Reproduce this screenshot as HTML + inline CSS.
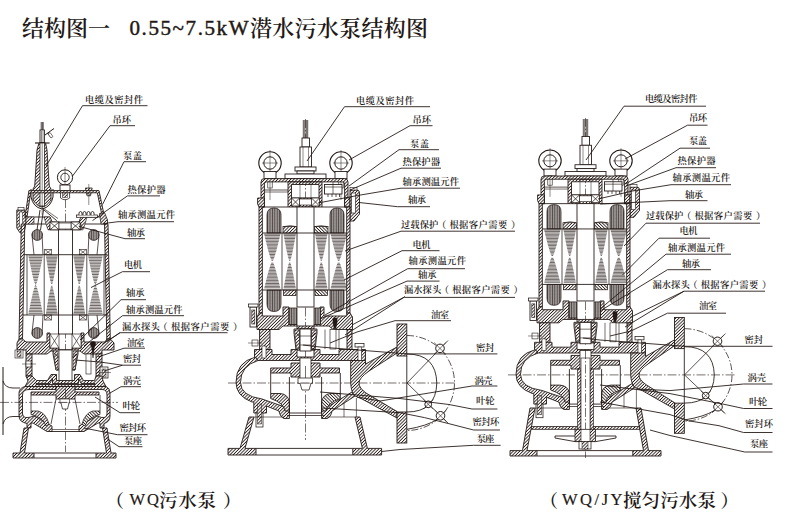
<!DOCTYPE html>
<html lang="zh-CN"><head><meta charset="utf-8"><title>结构图一 0.55~7.5kW潜水污水泵结构图</title>
<style>
html,body{margin:0;padding:0;background:#fff;}
body{width:800px;height:530px;overflow:hidden;font-family:"Liberation Serif","Noto Serif CJK SC",serif;}
svg{display:block}
.t{font-family:"Liberation Serif","Noto Serif CJK SC",serif;font-weight:600;fill:#231815;stroke:none}
.h1{font-family:"Liberation Serif","Noto Serif CJK SC",serif;font-weight:600;fill:#231815;stroke:none}
.h3{font-family:"Liberation Serif","Noto Serif CJK SC",serif;font-weight:400;fill:#231815;stroke:#231815;stroke-width:0.2}
.h2{font-family:"Liberation Serif","Noto Serif CJK SC",serif;font-weight:400;fill:#231815;stroke:#231815;stroke-width:0.45}
</style></head><body>
<svg width="800" height="530" viewBox="0 0 800 530" stroke="#231815" fill="none" stroke-linecap="butt" stroke-linejoin="miter">
<defs>
<pattern id="h" width="2.3" height="2.3" patternUnits="userSpaceOnUse" patternTransform="rotate(45)"><rect width="2.3" height="2.3" fill="#fff" stroke="none"/><line x1="1.15" y1="-1" x2="1.15" y2="3.3" stroke="#231815" stroke-width="0.85"/></pattern>
<pattern id="x" width="2.4" height="1.45" patternUnits="userSpaceOnUse"><rect width="2.4" height="1.45" fill="#fff" stroke="none"/><path d="M-1,0.72H4" stroke="#231815" stroke-width="0.7"/><path d="M1.2,-1V3" stroke="#231815" stroke-width="0.5"/></pattern>
<pattern id="s" width="1.4" height="1.4" patternUnits="userSpaceOnUse"><rect width="1.4" height="1.4" fill="#fff" stroke="none"/><line x1="-1" y1="0.7" x2="2.4" y2="0.7" stroke="#3a302d" stroke-width="0.7"/></pattern>
</defs>
<rect x="0" y="0" width="800" height="530" fill="#fff" stroke="none"/>
<g id="p2">
<line x1="305.5" y1="119.0" x2="305.5" y2="440.0" stroke-width="0.62" stroke-dasharray="9 2 1.5 2"/>
<line x1="303.3" y1="120.0" x2="303.3" y2="138.0" stroke-width="0.75" />
<line x1="304.8" y1="120.0" x2="304.8" y2="138.0" stroke-width="0.75" />
<line x1="306.3" y1="120.0" x2="306.3" y2="138.0" stroke-width="0.75" />
<line x1="307.7" y1="120.0" x2="307.7" y2="138.0" stroke-width="0.75" />
<rect x="302.0" y="138.0" width="7.5" height="9.0" fill="#fff" stroke-width="0.88" rx="0" />
<rect x="300.0" y="147.0" width="11.5" height="20.0" fill="#fff" stroke-width="0.88" rx="0" />
<line x1="303.0" y1="147.0" x2="303.0" y2="167.0" stroke-width="0.50" />
<line x1="308.5" y1="147.0" x2="308.5" y2="167.0" stroke-width="0.50" />
<rect x="295.0" y="167.0" width="21.0" height="4.0" fill="#fff" stroke-width="0.88" rx="0" />
<rect x="297.0" y="171.0" width="17.0" height="3.0" fill="#fff" stroke-width="0.88" rx="0" />
<rect x="285.0" y="174.0" width="41.0" height="4.6" fill="#fff" stroke-width="0.88" rx="0" />
<circle cx="270.0" cy="163.0" r="11.2" fill="#fff" stroke-width="1.12" />
<circle cx="270.0" cy="163.0" r="6.2" fill="#fff" stroke-width="1.00" />
<line x1="262.0" y1="163.0" x2="278.0" y2="163.0" stroke-width="0.50" />
<line x1="270.0" y1="150.0" x2="270.0" y2="172.0" stroke-width="0.50" />
<rect x="264.0" y="171.5" width="12.0" height="7.1" fill="#fff" stroke-width="0.88" rx="0" />
<rect x="267.8" y="178.6" width="4.4" height="9.4" fill="#fff" stroke-width="0.62" rx="0" />
<line x1="270.0" y1="178.0" x2="270.0" y2="200.0" stroke-width="0.50" />
<g transform="translate(611.0,0) scale(-1,1)">
<circle cx="270.0" cy="163.0" r="11.2" fill="#fff" stroke-width="1.12" />
<circle cx="270.0" cy="163.0" r="6.2" fill="#fff" stroke-width="1.00" />
<line x1="262.0" y1="163.0" x2="278.0" y2="163.0" stroke-width="0.50" />
<line x1="270.0" y1="150.0" x2="270.0" y2="172.0" stroke-width="0.50" />
<rect x="264.0" y="171.5" width="12.0" height="7.1" fill="#fff" stroke-width="0.88" rx="0" />
<rect x="267.8" y="178.6" width="4.4" height="9.4" fill="#fff" stroke-width="0.62" rx="0" />
<line x1="270.0" y1="178.0" x2="270.0" y2="200.0" stroke-width="0.50" />
</g>
<path d="M261,207 V182 Q261,178.6 264.5,178.6 H344.5 Q348,178.6 348,182 V207 H344.6 V184 Q344.6,181.9 342.5,181.9 H266.5 Q264.4,181.9 264.4,184 V207 Z" fill="url(#h)" stroke-width="0.88" />
<path d="M257.6,198 H264.4 V207 H259 L257.6,204 Z" fill="url(#h)" stroke-width="0.88" />
<path d="M344.6,198 H350 V207 H344.6 Z" fill="url(#h)" stroke-width="0.88" />
<path d="M350,190 H357 Q359.5,190 359.5,193 V214 L354,221 H350 Z" fill="url(#h)" stroke-width="0.88" />
<rect x="351.5" y="193.0" width="4.0" height="20.0" fill="#fff" stroke-width="0.62" rx="0" />
<rect x="350.0" y="187.5" width="7.0" height="2.5" fill="#fff" stroke-width="0.62" rx="0" />
<rect x="259.0" y="207.0" width="3.3" height="106.0" fill="url(#h)" stroke-width="0.88" rx="0" />
<rect x="346.7" y="207.0" width="3.3" height="106.0" fill="url(#h)" stroke-width="0.88" rx="0" />
<path d="M288,181.9 H322 V207 H288 Z M291.5,184.5 V198 H319 V184.5 Z" fill="url(#h)" stroke-width="0.88" fill-rule="evenodd"/>
<line x1="264.4" y1="190.0" x2="288.0" y2="190.0" stroke-width="0.75" />
<line x1="264.4" y1="192.0" x2="288.0" y2="192.0" stroke-width="0.62" />
<line x1="262.3" y1="207.0" x2="288.0" y2="207.0" stroke-width="0.88" />
<line x1="322.0" y1="207.0" x2="346.7" y2="207.0" stroke-width="0.88" />
<rect x="291.5" y="198.0" width="8.0" height="8.0" fill="#fff" stroke-width="0.75" rx="0" />
<line x1="291.5" y1="198.0" x2="299.5" y2="206.0" stroke-width="0.75" />
<line x1="291.5" y1="206.0" x2="299.5" y2="198.0" stroke-width="0.75" />
<rect x="311.5" y="198.0" width="8.0" height="8.0" fill="#fff" stroke-width="0.75" rx="0" />
<line x1="311.5" y1="198.0" x2="319.5" y2="206.0" stroke-width="0.75" />
<line x1="311.5" y1="206.0" x2="319.5" y2="198.0" stroke-width="0.75" />
<rect x="299.5" y="199.0" width="12.0" height="6.0" fill="#fff" stroke-width="0.62" rx="0" />
<rect x="324.5" y="184.5" width="17.5" height="9.5" fill="#fff" stroke-width="0.88" rx="0" />
<line x1="324.5" y1="187.0" x2="342.0" y2="187.0" stroke-width="0.62" />
<line x1="328.0" y1="194.0" x2="328.0" y2="197.0" stroke-width="0.75" />
<line x1="332.0" y1="194.0" x2="332.0" y2="197.0" stroke-width="0.75" />
<line x1="336.0" y1="194.0" x2="336.0" y2="197.0" stroke-width="0.75" />
<line x1="339.5" y1="194.0" x2="339.5" y2="197.0" stroke-width="0.75" />
<line x1="333.0" y1="181.9" x2="333.0" y2="194.0" stroke-width="0.62" />
<rect x="297.0" y="207.0" width="17.0" height="100.0" fill="#fff" stroke-width="0.88" rx="0" />
<rect x="300.0" y="181.9" width="11.0" height="16.1" fill="none" stroke-width="0.50" rx="0" />
<path d="M267,233 V215 Q267,208 274,208 Q281,208 281,215 V233 Z" fill="url(#x)" stroke-width="0.75" />
<path d="M267,290 V304 Q267,311.5 274,311.5 Q281,311.5 281,304 V290 Z" fill="url(#x)" stroke-width="0.75" />
<rect x="283.0" y="226.6" width="13.6" height="6.4" fill="url(#h)" stroke-width="0.75" rx="0" />
<path d="M284,226.6 Q290,224.5 296,226.6" fill="none" stroke-width="0.62" />
<rect x="283.6" y="290.0" width="12.4" height="5.5" fill="url(#h)" stroke-width="0.75" rx="0" />
<path d="M264.2,234.2H280.4M264.5,235.6H280.1M264.9,237.1H279.7M265.2,238.5H279.4M265.5,240.0H279.1M265.9,241.4H278.7M266.3,242.9H278.3M266.6,244.3H278.0M267.0,245.8H277.6M267.4,247.2H277.2M267.7,248.7H276.9M268.1,250.1H276.5M268.5,251.6H276.1M269.0,253.0H275.6M269.4,254.5H275.2M269.8,255.9H274.8M270.3,257.4H274.3M270.8,258.8H273.8M271.5,260.3H273.1M271.2,263.2H273.4M270.6,264.6H274.0M270.1,266.1H274.5M269.7,267.5H274.9M269.2,269.0H275.4M268.8,270.4H275.8M268.4,271.9H276.2M268.0,273.3H276.6M267.6,274.8H277.0M267.2,276.2H277.4M266.9,277.7H277.7M266.5,279.1H278.1M266.1,280.6H278.5M265.8,282.0H278.8M265.4,283.5H279.2M265.1,284.9H279.5M264.7,286.4H279.9M264.4,287.8H280.2" fill="none" stroke-width="0.69" stroke="#2e2522"/>
<path d="M283.5,234.2H295.9M283.8,235.6H295.6M284.0,237.1H295.4M284.3,238.5H295.1M284.6,240.0H294.8M284.8,241.4H294.6M285.1,242.9H294.3M285.4,244.3H294.0M285.7,245.8H293.7M285.9,247.2H293.5M286.2,248.7H293.2M286.5,250.1H292.9M286.8,251.6H292.6M287.1,253.0H292.3M287.5,254.5H291.9M287.8,255.9H291.6M288.2,257.4H291.2M288.6,258.8H290.8M289.1,260.3H290.3M288.9,263.2H290.5M288.4,264.6H291.0M288.1,266.1H291.3M287.7,267.5H291.7M287.4,269.0H292.0M287.0,270.4H292.4M286.7,271.9H292.7M286.4,273.3H293.0M286.1,274.8H293.3M285.8,276.2H293.6M285.6,277.7H293.8M285.3,279.1H294.1M285.0,280.6H294.4M284.7,282.0H294.7M284.5,283.5H294.9M284.2,284.9H295.2M283.9,286.4H295.5M283.7,287.8H295.7" fill="none" stroke-width="0.69" stroke="#2e2522"/>
<line x1="282.0" y1="233.0" x2="282.0" y2="290.0" stroke-width="0.75" />
<g transform="translate(611.0,0) scale(-1,1)">
<path d="M267,233 V215 Q267,208 274,208 Q281,208 281,215 V233 Z" fill="url(#x)" stroke-width="0.75" />
<path d="M267,290 V304 Q267,311.5 274,311.5 Q281,311.5 281,304 V290 Z" fill="url(#x)" stroke-width="0.75" />
<rect x="283.0" y="226.6" width="13.6" height="6.4" fill="url(#h)" stroke-width="0.75" rx="0" />
<path d="M284,226.6 Q290,224.5 296,226.6" fill="none" stroke-width="0.62" />
<rect x="283.6" y="290.0" width="12.4" height="5.5" fill="url(#h)" stroke-width="0.75" rx="0" />
<path d="M264.2,234.2H280.4M264.5,235.6H280.1M264.9,237.1H279.7M265.2,238.5H279.4M265.5,240.0H279.1M265.9,241.4H278.7M266.3,242.9H278.3M266.6,244.3H278.0M267.0,245.8H277.6M267.4,247.2H277.2M267.7,248.7H276.9M268.1,250.1H276.5M268.5,251.6H276.1M269.0,253.0H275.6M269.4,254.5H275.2M269.8,255.9H274.8M270.3,257.4H274.3M270.8,258.8H273.8M271.5,260.3H273.1M271.2,263.2H273.4M270.6,264.6H274.0M270.1,266.1H274.5M269.7,267.5H274.9M269.2,269.0H275.4M268.8,270.4H275.8M268.4,271.9H276.2M268.0,273.3H276.6M267.6,274.8H277.0M267.2,276.2H277.4M266.9,277.7H277.7M266.5,279.1H278.1M266.1,280.6H278.5M265.8,282.0H278.8M265.4,283.5H279.2M265.1,284.9H279.5M264.7,286.4H279.9M264.4,287.8H280.2" fill="none" stroke-width="0.69" stroke="#2e2522"/>
<path d="M283.5,234.2H295.9M283.8,235.6H295.6M284.0,237.1H295.4M284.3,238.5H295.1M284.6,240.0H294.8M284.8,241.4H294.6M285.1,242.9H294.3M285.4,244.3H294.0M285.7,245.8H293.7M285.9,247.2H293.5M286.2,248.7H293.2M286.5,250.1H292.9M286.8,251.6H292.6M287.1,253.0H292.3M287.5,254.5H291.9M287.8,255.9H291.6M288.2,257.4H291.2M288.6,258.8H290.8M289.1,260.3H290.3M288.9,263.2H290.5M288.4,264.6H291.0M288.1,266.1H291.3M287.7,267.5H291.7M287.4,269.0H292.0M287.0,270.4H292.4M286.7,271.9H292.7M286.4,273.3H293.0M286.1,274.8H293.3M285.8,276.2H293.6M285.6,277.7H293.8M285.3,279.1H294.1M285.0,280.6H294.4M284.7,282.0H294.7M284.5,283.5H294.9M284.2,284.9H295.2M283.9,286.4H295.5M283.7,287.8H295.7" fill="none" stroke-width="0.69" stroke="#2e2522"/>
<line x1="282.0" y1="233.0" x2="282.0" y2="290.0" stroke-width="0.75" />
</g>
<line x1="262.3" y1="233.0" x2="346.7" y2="233.0" stroke-width="0.88" />
<line x1="262.3" y1="290.0" x2="346.7" y2="290.0" stroke-width="0.88" />
<path d="M259,313 H262.3 V316 H283 V307 H289 V324.5 H297 V329 H314 V324.5 H320 V307 H324 V316 H346.7 V313 H350 L352.5,317 V329.5 H333 L329,326 H283 L279,329.5 H257 V317 Z" fill="url(#h)" stroke-width="0.88" />
<rect x="289.0" y="308.0" width="8.0" height="16.5" fill="url(#x)" stroke-width="0.75" rx="0" />
<rect x="314.0" y="308.0" width="6.5" height="16.5" fill="url(#x)" stroke-width="0.75" rx="0" />
<rect x="250.0" y="307.0" width="6.5" height="20.0" fill="#fff" stroke-width="0.88" rx="0" />
<rect x="251.8" y="310.0" width="3.0" height="14.0" fill="url(#h)" stroke-width="0.62" rx="0" />
<rect x="248.5" y="304.0" width="9.5" height="3.0" fill="#fff" stroke-width="0.75" rx="0" />
<rect x="259.6" y="329.5" width="10.4" height="20.0" fill="url(#h)" stroke-width="0.88" rx="0" />
<rect x="347.0" y="329.5" width="5.0" height="20.0" fill="url(#h)" stroke-width="0.88" rx="0" />
<rect x="252.0" y="340.0" width="6.0" height="6.0" fill="#fff" stroke-width="0.62" rx="0" />
<line x1="248.0" y1="343.0" x2="262.0" y2="343.0" stroke-width="0.50" />
<path d="M333,318 l4,0 l0,5 l-2,9 l-2,-9 Z" fill="#231815" stroke-width="0.62" />
<rect x="330.0" y="329.5" width="6.0" height="19.5" fill="#fff" stroke-width="0.62" rx="0" />
<line x1="325.0" y1="329.5" x2="325.0" y2="349.0" stroke-width="0.62" />
<line x1="339.0" y1="329.5" x2="339.0" y2="349.0" stroke-width="0.62" />
<path d="M294,329 H317 V333 L315,350 H296 L294,333 Z" fill="#fff" stroke-width="0.88" />
<path d="M294.5,330 H299.5 V350 H296.5 Z" fill="url(#h)" stroke-width="0.62" />
<path d="M316.5,330 H311.5 V350 H314.5 Z" fill="url(#h)" stroke-width="0.62" />
<line x1="296.0" y1="333.0" x2="314.0" y2="350.0" stroke-width="0.75" />
<line x1="315.0" y1="333.0" x2="297.0" y2="350.0" stroke-width="0.75" />
<rect x="300.0" y="329.0" width="11.0" height="22.0" fill="#fff" stroke-width="0.88" rx="0" />
<line x1="300.0" y1="336.0" x2="311.0" y2="336.0" stroke-width="0.62" />
<line x1="300.0" y1="345.0" x2="311.0" y2="345.0" stroke-width="0.62" />
<path d="M254.5,349.5 H272 V354.5 H291 V349.5 H297 V357 H314 V349.5 H320 V354.5 H339 V349.5 H365.5 V360.5 H254.5 Z" fill="url(#h)" stroke-width="0.88" />
<rect x="355.0" y="343.5" width="9.0" height="3.5" fill="#fff" stroke-width="0.75" rx="0" />
<rect x="358.0" y="347.0" width="3.5" height="18.0" fill="#fff" stroke-width="0.62" rx="0" />
<rect x="262.0" y="346.0" width="4.0" height="12.0" fill="#fff" stroke-width="0.62" rx="0" />
<path d="M255.5,357 Q236,362 236,382.4 Q236,396 252,402 L253.8,402 V413 H266.5 V406 L279,411 Q280,417 284,418.5 H289.4 V410 H285.5 Q284.5,406 282,406 L262,399 Q240.5,396 240.5,382.4 Q240.5,366 258,360.5 Z" fill="url(#h)" stroke-width="0.88" />
<path d="M321.6,410 V418.5 H327 Q331,417 332,411 L355,396 L352,392 L329,406 Q326.5,406 325.5,410 Z" fill="url(#h)" stroke-width="0.88" />
<rect x="256.0" y="413.0" width="7.0" height="14.0" fill="#fff" stroke-width="0.75" rx="0" />
<rect x="257.5" y="404.0" width="4.0" height="20.0" fill="url(#h)" stroke-width="0.50" rx="0" />
<path d="M270.7,368 H291 V363 H320 V368 H339.5 V373 H320 V377 H291 V373 H270.7 Z" fill="url(#h)" stroke-width="0.88" />
<rect x="300.0" y="358.0" width="11.0" height="25.0" fill="#fff" stroke-width="0.75" rx="0" />
<line x1="305.5" y1="366.0" x2="305.5" y2="380.0" stroke-width="0.62" />
<rect x="298.0" y="378.0" width="14.5" height="5.3" fill="#fff" stroke-width="0.75" rx="0" />
<path d="M300,383.3 L302,390 H309 L311,383.3" fill="#fff" stroke-width="0.75" />
<line x1="270.7" y1="373.0" x2="270.7" y2="393.5" stroke-width="0.88" />
<path d="M270.7,393.5 H280 Q288,394 289.4,402 V411 H285 Q284,403 270.7,398.5 Z" fill="url(#h)" stroke-width="0.88" />
<line x1="289.4" y1="377.0" x2="289.4" y2="413.0" stroke-width="0.88" />
<g transform="translate(611.0,0) scale(-1,1)">
<line x1="270.7" y1="373.0" x2="270.7" y2="393.5" stroke-width="0.88" />
<path d="M270.7,393.5 H280 Q288,394 289.4,402 V411 H285 Q284,403 270.7,398.5 Z" fill="url(#h)" stroke-width="0.88" />
<line x1="289.4" y1="377.0" x2="289.4" y2="413.0" stroke-width="0.88" />
</g>
<line x1="289.4" y1="413.0" x2="321.6" y2="413.0" stroke-width="0.88" />
<line x1="287.0" y1="415.5" x2="324.0" y2="415.5" stroke-width="0.75" />
<line x1="228.0" y1="383.0" x2="456.0" y2="383.0" stroke-width="0.62" stroke-dasharray="9 2 1.5 2"/>
<path d="M350.7,360.5 H365.5 V364 L397,347 V353 L369,371 Q359,378 359,383 Q359,388 366,393 L397,411.5 V418 L362,399 L355,396 Q351,392 350.7,383 Z" fill="url(#h)" stroke-width="0.88" />
<line x1="356.4" y1="398.0" x2="356.4" y2="417.0" stroke-width="0.62" />
<line x1="344.0" y1="403.0" x2="344.0" y2="417.0" stroke-width="0.62" />
<rect x="397.0" y="324.0" width="9.8" height="32.0" fill="url(#h)" stroke-width="0.88" rx="0" />
<rect x="397.0" y="412.0" width="9.8" height="31.0" fill="url(#h)" stroke-width="0.88" rx="0" />
<line x1="406.8" y1="356.0" x2="406.8" y2="412.0" stroke-width="0.88" />
<path d="M407,335.5 A47.5,47.5 0 0 1 407,430.5" fill="none" stroke-width="0.75" stroke-dasharray="7 2 1.5 2"/>
<path d="M407,354 Q436,354 436.8,383 Q436,412 407,412" fill="none" stroke-width="0.88" />
<line x1="407.0" y1="383.0" x2="448.0" y2="340.5" stroke-width="0.75" />
<line x1="407.0" y1="383.0" x2="448.0" y2="423.0" stroke-width="0.75" />
<circle cx="440.0" cy="348.4" r="4.3" fill="#fff" stroke-width="1.00" />
<line x1="434.2" y1="354.2" x2="445.8" y2="342.6" stroke-width="0.62" />
<line x1="434.2" y1="342.6" x2="445.8" y2="354.2" stroke-width="0.62" />
<circle cx="440.5" cy="415.8" r="4.3" fill="#fff" stroke-width="1.00" />
<line x1="434.7" y1="410.0" x2="446.3" y2="421.6" stroke-width="0.62" />
<line x1="434.7" y1="421.6" x2="446.3" y2="410.0" stroke-width="0.62" />
<circle cx="428.2" cy="404.3" r="3.4" fill="#fff" stroke-width="1.00" />
<line x1="423.3" y1="399.4" x2="433.1" y2="409.2" stroke-width="0.62" />
<line x1="423.3" y1="409.2" x2="433.1" y2="399.4" stroke-width="0.62" />
<path d="M407,429.3 Q427,426 437,419.5" fill="none" stroke-width="0.88" />
<path d="M249,417 H254 L245,448.4 H256 V455 H228 V448.4 H240 Z" fill="url(#h)" stroke-width="0.88" />
<path d="M355,417 H360 L367.4,448.4 H381.6 V455 H352.8 V448.4 H362.4 Z" fill="url(#h)" stroke-width="0.88" />
<line x1="256.0" y1="448.4" x2="352.8" y2="448.4" stroke-width="0.88" />
<line x1="256.0" y1="455.0" x2="352.8" y2="455.0" stroke-width="0.88" />
<line x1="254.0" y1="417.0" x2="284.0" y2="417.0" stroke-width="0.62" />
<line x1="327.0" y1="417.0" x2="355.0" y2="417.0" stroke-width="0.62" />
</g>
<g id="p3" transform="translate(280,2.24) scale(1,0.973)">
<line x1="305.5" y1="119.0" x2="305.5" y2="352.0" stroke-width="0.62" stroke-dasharray="9 2 1.5 2"/>
<line x1="303.3" y1="120.0" x2="303.3" y2="138.0" stroke-width="0.75" />
<line x1="304.8" y1="120.0" x2="304.8" y2="138.0" stroke-width="0.75" />
<line x1="306.3" y1="120.0" x2="306.3" y2="138.0" stroke-width="0.75" />
<line x1="307.7" y1="120.0" x2="307.7" y2="138.0" stroke-width="0.75" />
<rect x="302.0" y="138.0" width="7.5" height="9.0" fill="#fff" stroke-width="0.88" rx="0" />
<rect x="300.0" y="147.0" width="11.5" height="20.0" fill="#fff" stroke-width="0.88" rx="0" />
<line x1="303.0" y1="147.0" x2="303.0" y2="167.0" stroke-width="0.50" />
<line x1="308.5" y1="147.0" x2="308.5" y2="167.0" stroke-width="0.50" />
<rect x="295.0" y="167.0" width="21.0" height="4.0" fill="#fff" stroke-width="0.88" rx="0" />
<rect x="297.0" y="171.0" width="17.0" height="3.0" fill="#fff" stroke-width="0.88" rx="0" />
<rect x="285.0" y="174.0" width="41.0" height="4.6" fill="#fff" stroke-width="0.88" rx="0" />
<circle cx="270.0" cy="163.0" r="11.2" fill="#fff" stroke-width="1.12" />
<circle cx="270.0" cy="163.0" r="6.2" fill="#fff" stroke-width="1.00" />
<line x1="262.0" y1="163.0" x2="278.0" y2="163.0" stroke-width="0.50" />
<line x1="270.0" y1="150.0" x2="270.0" y2="172.0" stroke-width="0.50" />
<rect x="264.0" y="171.5" width="12.0" height="7.1" fill="#fff" stroke-width="0.88" rx="0" />
<rect x="267.8" y="178.6" width="4.4" height="9.4" fill="#fff" stroke-width="0.62" rx="0" />
<line x1="270.0" y1="178.0" x2="270.0" y2="200.0" stroke-width="0.50" />
<g transform="translate(611.0,0) scale(-1,1)">
<circle cx="270.0" cy="163.0" r="11.2" fill="#fff" stroke-width="1.12" />
<circle cx="270.0" cy="163.0" r="6.2" fill="#fff" stroke-width="1.00" />
<line x1="262.0" y1="163.0" x2="278.0" y2="163.0" stroke-width="0.50" />
<line x1="270.0" y1="150.0" x2="270.0" y2="172.0" stroke-width="0.50" />
<rect x="264.0" y="171.5" width="12.0" height="7.1" fill="#fff" stroke-width="0.88" rx="0" />
<rect x="267.8" y="178.6" width="4.4" height="9.4" fill="#fff" stroke-width="0.62" rx="0" />
<line x1="270.0" y1="178.0" x2="270.0" y2="200.0" stroke-width="0.50" />
</g>
<path d="M261,207 V182 Q261,178.6 264.5,178.6 H344.5 Q348,178.6 348,182 V207 H344.6 V184 Q344.6,181.9 342.5,181.9 H266.5 Q264.4,181.9 264.4,184 V207 Z" fill="url(#h)" stroke-width="0.88" />
<path d="M257.6,198 H264.4 V207 H259 L257.6,204 Z" fill="url(#h)" stroke-width="0.88" />
<path d="M344.6,198 H350 V207 H344.6 Z" fill="url(#h)" stroke-width="0.88" />
<path d="M350,190 H357 Q359.5,190 359.5,193 V214 L354,221 H350 Z" fill="url(#h)" stroke-width="0.88" />
<rect x="351.5" y="193.0" width="4.0" height="20.0" fill="#fff" stroke-width="0.62" rx="0" />
<rect x="350.0" y="187.5" width="7.0" height="2.5" fill="#fff" stroke-width="0.62" rx="0" />
<rect x="259.0" y="207.0" width="3.3" height="106.0" fill="url(#h)" stroke-width="0.88" rx="0" />
<rect x="346.7" y="207.0" width="3.3" height="106.0" fill="url(#h)" stroke-width="0.88" rx="0" />
<path d="M288,181.9 H322 V207 H288 Z M291.5,184.5 V198 H319 V184.5 Z" fill="url(#h)" stroke-width="0.88" fill-rule="evenodd"/>
<line x1="264.4" y1="190.0" x2="288.0" y2="190.0" stroke-width="0.75" />
<line x1="264.4" y1="192.0" x2="288.0" y2="192.0" stroke-width="0.62" />
<line x1="262.3" y1="207.0" x2="288.0" y2="207.0" stroke-width="0.88" />
<line x1="322.0" y1="207.0" x2="346.7" y2="207.0" stroke-width="0.88" />
<rect x="291.5" y="198.0" width="8.0" height="8.0" fill="#fff" stroke-width="0.75" rx="0" />
<line x1="291.5" y1="198.0" x2="299.5" y2="206.0" stroke-width="0.75" />
<line x1="291.5" y1="206.0" x2="299.5" y2="198.0" stroke-width="0.75" />
<rect x="311.5" y="198.0" width="8.0" height="8.0" fill="#fff" stroke-width="0.75" rx="0" />
<line x1="311.5" y1="198.0" x2="319.5" y2="206.0" stroke-width="0.75" />
<line x1="311.5" y1="206.0" x2="319.5" y2="198.0" stroke-width="0.75" />
<rect x="299.5" y="199.0" width="12.0" height="6.0" fill="#fff" stroke-width="0.62" rx="0" />
<rect x="324.5" y="184.5" width="17.5" height="9.5" fill="#fff" stroke-width="0.88" rx="0" />
<line x1="324.5" y1="187.0" x2="342.0" y2="187.0" stroke-width="0.62" />
<line x1="328.0" y1="194.0" x2="328.0" y2="197.0" stroke-width="0.75" />
<line x1="332.0" y1="194.0" x2="332.0" y2="197.0" stroke-width="0.75" />
<line x1="336.0" y1="194.0" x2="336.0" y2="197.0" stroke-width="0.75" />
<line x1="339.5" y1="194.0" x2="339.5" y2="197.0" stroke-width="0.75" />
<line x1="333.0" y1="181.9" x2="333.0" y2="194.0" stroke-width="0.62" />
<rect x="297.0" y="207.0" width="17.0" height="100.0" fill="#fff" stroke-width="0.88" rx="0" />
<rect x="300.0" y="181.9" width="11.0" height="16.1" fill="none" stroke-width="0.50" rx="0" />
<path d="M267,233 V215 Q267,208 274,208 Q281,208 281,215 V233 Z" fill="url(#x)" stroke-width="0.75" />
<path d="M267,290 V304 Q267,311.5 274,311.5 Q281,311.5 281,304 V290 Z" fill="url(#x)" stroke-width="0.75" />
<rect x="283.0" y="226.6" width="13.6" height="6.4" fill="url(#h)" stroke-width="0.75" rx="0" />
<path d="M284,226.6 Q290,224.5 296,226.6" fill="none" stroke-width="0.62" />
<rect x="283.6" y="290.0" width="12.4" height="5.5" fill="url(#h)" stroke-width="0.75" rx="0" />
<path d="M264.2,234.2H280.4M264.5,235.6H280.1M264.9,237.1H279.7M265.2,238.5H279.4M265.5,240.0H279.1M265.9,241.4H278.7M266.3,242.9H278.3M266.6,244.3H278.0M267.0,245.8H277.6M267.4,247.2H277.2M267.7,248.7H276.9M268.1,250.1H276.5M268.5,251.6H276.1M269.0,253.0H275.6M269.4,254.5H275.2M269.8,255.9H274.8M270.3,257.4H274.3M270.8,258.8H273.8M271.5,260.3H273.1M271.2,263.2H273.4M270.6,264.6H274.0M270.1,266.1H274.5M269.7,267.5H274.9M269.2,269.0H275.4M268.8,270.4H275.8M268.4,271.9H276.2M268.0,273.3H276.6M267.6,274.8H277.0M267.2,276.2H277.4M266.9,277.7H277.7M266.5,279.1H278.1M266.1,280.6H278.5M265.8,282.0H278.8M265.4,283.5H279.2M265.1,284.9H279.5M264.7,286.4H279.9M264.4,287.8H280.2" fill="none" stroke-width="0.69" stroke="#2e2522"/>
<path d="M283.5,234.2H295.9M283.8,235.6H295.6M284.0,237.1H295.4M284.3,238.5H295.1M284.6,240.0H294.8M284.8,241.4H294.6M285.1,242.9H294.3M285.4,244.3H294.0M285.7,245.8H293.7M285.9,247.2H293.5M286.2,248.7H293.2M286.5,250.1H292.9M286.8,251.6H292.6M287.1,253.0H292.3M287.5,254.5H291.9M287.8,255.9H291.6M288.2,257.4H291.2M288.6,258.8H290.8M289.1,260.3H290.3M288.9,263.2H290.5M288.4,264.6H291.0M288.1,266.1H291.3M287.7,267.5H291.7M287.4,269.0H292.0M287.0,270.4H292.4M286.7,271.9H292.7M286.4,273.3H293.0M286.1,274.8H293.3M285.8,276.2H293.6M285.6,277.7H293.8M285.3,279.1H294.1M285.0,280.6H294.4M284.7,282.0H294.7M284.5,283.5H294.9M284.2,284.9H295.2M283.9,286.4H295.5M283.7,287.8H295.7" fill="none" stroke-width="0.69" stroke="#2e2522"/>
<line x1="282.0" y1="233.0" x2="282.0" y2="290.0" stroke-width="0.75" />
<g transform="translate(611.0,0) scale(-1,1)">
<path d="M267,233 V215 Q267,208 274,208 Q281,208 281,215 V233 Z" fill="url(#x)" stroke-width="0.75" />
<path d="M267,290 V304 Q267,311.5 274,311.5 Q281,311.5 281,304 V290 Z" fill="url(#x)" stroke-width="0.75" />
<rect x="283.0" y="226.6" width="13.6" height="6.4" fill="url(#h)" stroke-width="0.75" rx="0" />
<path d="M284,226.6 Q290,224.5 296,226.6" fill="none" stroke-width="0.62" />
<rect x="283.6" y="290.0" width="12.4" height="5.5" fill="url(#h)" stroke-width="0.75" rx="0" />
<path d="M264.2,234.2H280.4M264.5,235.6H280.1M264.9,237.1H279.7M265.2,238.5H279.4M265.5,240.0H279.1M265.9,241.4H278.7M266.3,242.9H278.3M266.6,244.3H278.0M267.0,245.8H277.6M267.4,247.2H277.2M267.7,248.7H276.9M268.1,250.1H276.5M268.5,251.6H276.1M269.0,253.0H275.6M269.4,254.5H275.2M269.8,255.9H274.8M270.3,257.4H274.3M270.8,258.8H273.8M271.5,260.3H273.1M271.2,263.2H273.4M270.6,264.6H274.0M270.1,266.1H274.5M269.7,267.5H274.9M269.2,269.0H275.4M268.8,270.4H275.8M268.4,271.9H276.2M268.0,273.3H276.6M267.6,274.8H277.0M267.2,276.2H277.4M266.9,277.7H277.7M266.5,279.1H278.1M266.1,280.6H278.5M265.8,282.0H278.8M265.4,283.5H279.2M265.1,284.9H279.5M264.7,286.4H279.9M264.4,287.8H280.2" fill="none" stroke-width="0.69" stroke="#2e2522"/>
<path d="M283.5,234.2H295.9M283.8,235.6H295.6M284.0,237.1H295.4M284.3,238.5H295.1M284.6,240.0H294.8M284.8,241.4H294.6M285.1,242.9H294.3M285.4,244.3H294.0M285.7,245.8H293.7M285.9,247.2H293.5M286.2,248.7H293.2M286.5,250.1H292.9M286.8,251.6H292.6M287.1,253.0H292.3M287.5,254.5H291.9M287.8,255.9H291.6M288.2,257.4H291.2M288.6,258.8H290.8M289.1,260.3H290.3M288.9,263.2H290.5M288.4,264.6H291.0M288.1,266.1H291.3M287.7,267.5H291.7M287.4,269.0H292.0M287.0,270.4H292.4M286.7,271.9H292.7M286.4,273.3H293.0M286.1,274.8H293.3M285.8,276.2H293.6M285.6,277.7H293.8M285.3,279.1H294.1M285.0,280.6H294.4M284.7,282.0H294.7M284.5,283.5H294.9M284.2,284.9H295.2M283.9,286.4H295.5M283.7,287.8H295.7" fill="none" stroke-width="0.69" stroke="#2e2522"/>
<line x1="282.0" y1="233.0" x2="282.0" y2="290.0" stroke-width="0.75" />
</g>
<line x1="262.3" y1="233.0" x2="346.7" y2="233.0" stroke-width="0.88" />
<line x1="262.3" y1="290.0" x2="346.7" y2="290.0" stroke-width="0.88" />
<path d="M259,313 H262.3 V316 H283 V307 H289 V324.5 H297 V329 H314 V324.5 H320 V307 H324 V316 H346.7 V313 H350 L352.5,317 V329.5 H333 L329,326 H283 L279,329.5 H257 V317 Z" fill="url(#h)" stroke-width="0.88" />
<rect x="289.0" y="308.0" width="8.0" height="16.5" fill="url(#x)" stroke-width="0.75" rx="0" />
<rect x="314.0" y="308.0" width="6.5" height="16.5" fill="url(#x)" stroke-width="0.75" rx="0" />
<rect x="250.0" y="307.0" width="6.5" height="20.0" fill="#fff" stroke-width="0.88" rx="0" />
<rect x="251.8" y="310.0" width="3.0" height="14.0" fill="url(#h)" stroke-width="0.62" rx="0" />
<rect x="248.5" y="304.0" width="9.5" height="3.0" fill="#fff" stroke-width="0.75" rx="0" />
<rect x="259.6" y="329.5" width="10.4" height="20.0" fill="url(#h)" stroke-width="0.88" rx="0" />
<rect x="347.0" y="329.5" width="5.0" height="20.0" fill="url(#h)" stroke-width="0.88" rx="0" />
<rect x="252.0" y="340.0" width="6.0" height="6.0" fill="#fff" stroke-width="0.62" rx="0" />
<line x1="248.0" y1="343.0" x2="262.0" y2="343.0" stroke-width="0.50" />
<path d="M333,318 l4,0 l0,5 l-2,9 l-2,-9 Z" fill="#231815" stroke-width="0.62" />
<rect x="330.0" y="329.5" width="6.0" height="19.5" fill="#fff" stroke-width="0.62" rx="0" />
<line x1="325.0" y1="329.5" x2="325.0" y2="349.0" stroke-width="0.62" />
<line x1="339.0" y1="329.5" x2="339.0" y2="349.0" stroke-width="0.62" />
<path d="M294,329 H317 V333 L315,350 H296 L294,333 Z" fill="#fff" stroke-width="0.88" />
<path d="M294.5,330 H299.5 V350 H296.5 Z" fill="url(#h)" stroke-width="0.62" />
<path d="M316.5,330 H311.5 V350 H314.5 Z" fill="url(#h)" stroke-width="0.62" />
<line x1="296.0" y1="333.0" x2="314.0" y2="350.0" stroke-width="0.75" />
<line x1="315.0" y1="333.0" x2="297.0" y2="350.0" stroke-width="0.75" />
<rect x="300.0" y="329.0" width="11.0" height="22.0" fill="#fff" stroke-width="0.88" rx="0" />
<line x1="300.0" y1="336.0" x2="311.0" y2="336.0" stroke-width="0.62" />
<line x1="300.0" y1="345.0" x2="311.0" y2="345.0" stroke-width="0.62" />
<path d="M254.5,349.5 H272 V354.5 H291 V349.5 H297 V357 H314 V349.5 H320 V354.5 H339 V349.5 H365.5 V360.5 H254.5 Z" fill="url(#h)" stroke-width="0.88" />
<rect x="355.0" y="343.5" width="9.0" height="3.5" fill="#fff" stroke-width="0.75" rx="0" />
<rect x="358.0" y="347.0" width="3.5" height="18.0" fill="#fff" stroke-width="0.62" rx="0" />
<rect x="262.0" y="346.0" width="4.0" height="12.0" fill="#fff" stroke-width="0.62" rx="0" />
<path d="M255.5,357 Q236,362 236,382.4 Q236,396 252,402 L253.8,402 V413 H266.5 V406 L279,411 Q280,417 284,418.5 H289.4 V410 H285.5 Q284.5,406 282,406 L262,399 Q240.5,396 240.5,382.4 Q240.5,366 258,360.5 Z" fill="url(#h)" stroke-width="0.88" />
<path d="M321.6,410 V418.5 H327 Q331,417 332,411 L355,396 L352,392 L329,406 Q326.5,406 325.5,410 Z" fill="url(#h)" stroke-width="0.88" />
<rect x="256.0" y="413.0" width="7.0" height="14.0" fill="#fff" stroke-width="0.75" rx="0" />
<rect x="257.5" y="404.0" width="4.0" height="20.0" fill="url(#h)" stroke-width="0.50" rx="0" />
<path d="M270.7,368 H291 V363 H320 V368 H339.5 V373 H320 V377 H291 V373 H270.7 Z" fill="url(#h)" stroke-width="0.88" />
<rect x="300.0" y="358.0" width="11.0" height="25.0" fill="#fff" stroke-width="0.75" rx="0" />
<line x1="305.5" y1="366.0" x2="305.5" y2="380.0" stroke-width="0.62" />
<line x1="270.7" y1="373.0" x2="270.7" y2="393.5" stroke-width="0.88" />
<path d="M270.7,393.5 H280 Q288,394 289.4,402 V411 H285 Q284,403 270.7,398.5 Z" fill="url(#h)" stroke-width="0.88" />
<line x1="289.4" y1="377.0" x2="289.4" y2="413.0" stroke-width="0.88" />
<g transform="translate(611.0,0) scale(-1,1)">
<line x1="270.7" y1="373.0" x2="270.7" y2="393.5" stroke-width="0.88" />
<path d="M270.7,393.5 H280 Q288,394 289.4,402 V411 H285 Q284,403 270.7,398.5 Z" fill="url(#h)" stroke-width="0.88" />
<line x1="289.4" y1="377.0" x2="289.4" y2="413.0" stroke-width="0.88" />
</g>
<line x1="289.4" y1="413.0" x2="321.6" y2="413.0" stroke-width="0.88" />
<line x1="287.0" y1="415.5" x2="324.0" y2="415.5" stroke-width="0.75" />
<line x1="228.0" y1="383.0" x2="456.0" y2="383.0" stroke-width="0.62" stroke-dasharray="9 2 1.5 2"/>
<path d="M350.7,360.5 H365.5 V364 L394.5,347 V353 L369,371 Q359,378 359,383 Q359,388 366,393 L394.5,411.5 V418 L362,399 L355,396 Q351,392 350.7,383 Z" fill="url(#h)" stroke-width="0.88" />
<line x1="356.4" y1="398.0" x2="356.4" y2="417.0" stroke-width="0.62" />
<line x1="344.0" y1="403.0" x2="344.0" y2="417.0" stroke-width="0.62" />
<rect x="394.5" y="324.0" width="9.8" height="32.0" fill="url(#h)" stroke-width="0.88" rx="0" />
<rect x="394.5" y="412.0" width="9.8" height="31.0" fill="url(#h)" stroke-width="0.88" rx="0" />
<line x1="404.3" y1="356.0" x2="404.3" y2="412.0" stroke-width="0.88" />
<path d="M404.5,335.5 A47.5,47.5 0 0 1 404.5,430.5" fill="none" stroke-width="0.75" stroke-dasharray="7 2 1.5 2"/>
<path d="M404.5,354 Q433.5,354 434.3,383 Q433.5,412 404.5,412" fill="none" stroke-width="0.88" />
<line x1="404.5" y1="383.0" x2="445.5" y2="340.5" stroke-width="0.75" />
<line x1="404.5" y1="383.0" x2="445.5" y2="423.0" stroke-width="0.75" />
<circle cx="437.5" cy="348.4" r="4.3" fill="#fff" stroke-width="1.00" />
<line x1="431.7" y1="354.2" x2="443.3" y2="342.6" stroke-width="0.62" />
<line x1="431.7" y1="342.6" x2="443.3" y2="354.2" stroke-width="0.62" />
<circle cx="438.0" cy="415.8" r="4.3" fill="#fff" stroke-width="1.00" />
<line x1="432.2" y1="410.0" x2="443.8" y2="421.6" stroke-width="0.62" />
<line x1="432.2" y1="421.6" x2="443.8" y2="410.0" stroke-width="0.62" />
<circle cx="425.7" cy="404.3" r="3.4" fill="#fff" stroke-width="1.00" />
<line x1="420.8" y1="399.4" x2="430.6" y2="409.2" stroke-width="0.62" />
<line x1="420.8" y1="409.2" x2="430.6" y2="399.4" stroke-width="0.62" />
<path d="M404.5,429.3 Q424.5,426 434.5,419.5" fill="none" stroke-width="0.88" />
</g>
<path d="M530,408 H535 L527,450.6 H537 V456 H510 V450.6 H522.5 Z" fill="url(#h)" stroke-width="0.88" />
<path d="M636,408 H641 L648.5,450.6 H661 V456 H632.8 V450.6 H643.5 Z" fill="url(#h)" stroke-width="0.88" />
<line x1="537.0" y1="450.6" x2="632.8" y2="450.6" stroke-width="0.88" />
<line x1="537.0" y1="456.0" x2="632.8" y2="456.0" stroke-width="0.88" />
<rect x="531.5" y="426.5" width="108.0" height="2.8" fill="url(#h)" stroke-width="0.75" rx="0" />
<rect x="577.5" y="369.0" width="3.5" height="67.0" fill="url(#h)" stroke-width="0.62" rx="0" />
<rect x="590.0" y="369.0" width="3.5" height="67.0" fill="url(#h)" stroke-width="0.62" rx="0" />
<rect x="581.0" y="358.0" width="9.0" height="83.0" fill="#fff" stroke-width="0.62" rx="0" />
<line x1="585.5" y1="350.0" x2="585.5" y2="458.0" stroke-width="0.62" stroke-dasharray="9 2 1.5 2"/>
<path d="M555,436 H616 V438 L595.6,441.6 H575 L555,438 Z" fill="#fff" stroke-width="0.88" />
<rect x="575.0" y="429.3" width="20.6" height="12.3" fill="url(#h)" stroke-width="0.75" rx="0" />
<rect x="581.0" y="429.3" width="9.0" height="12.3" fill="#fff" stroke-width="0.62" rx="0" />
<rect x="579.0" y="441.6" width="12.0" height="7.4" fill="#fff" stroke-width="0.75" rx="0" />
<rect x="582.0" y="441.6" width="6.0" height="7.4" fill="url(#h)" stroke-width="0.50" rx="0" />
<line x1="535.0" y1="408.0" x2="565.0" y2="408.0" stroke-width="0.62" />
<line x1="606.0" y1="408.0" x2="636.0" y2="408.0" stroke-width="0.62" />
<line x1="65.5" y1="170.0" x2="65.5" y2="452.0" stroke-width="0.62" stroke-dasharray="9 2 1.5 2"/>
<line x1="41.2" y1="122.0" x2="41.2" y2="131.0" stroke-width="0.75" />
<line x1="42.3" y1="122.0" x2="42.3" y2="131.0" stroke-width="0.75" />
<line x1="43.2" y1="122.0" x2="43.2" y2="131.0" stroke-width="0.75" />
<rect x="40.0" y="130.0" width="4.4" height="13.0" fill="#fff" stroke-width="0.88" rx="0" />
<line x1="41.5" y1="131.0" x2="41.5" y2="143.0" stroke-width="0.50" />
<line x1="43.0" y1="131.0" x2="43.0" y2="143.0" stroke-width="0.50" />
<line x1="45.0" y1="135.0" x2="54.0" y2="128.5" stroke-width="1.00" />
<line x1="47.5" y1="133.0" x2="51.0" y2="137.5" stroke-width="1.00" />
<path d="M48,134 l3,4 l2,-1.5 l-3,-4 Z" fill="#fff" stroke-width="0.62" />
<line x1="35.0" y1="143.0" x2="49.6" y2="143.0" stroke-width="1.12" />
<path d="M39,143 H45.6 L47,150 L48.6,176 L49.3,186 L51,189 V200 Q46,207 42,207 Q38,207 33,200 V189 L34.7,186 L35.4,176 L37,150 Z" fill="url(#h)" stroke-width="0.88" />
<rect x="40.0" y="143.0" width="4.4" height="63.0" fill="#fff" stroke-width="0.75" rx="0" />
<line x1="42.2" y1="143.0" x2="42.2" y2="215.0" stroke-width="0.50" />
<path d="M31,189 V197 Q33,207 42,209 Q51,207 53,197 V189" fill="none" stroke-width="1.00" />
<circle cx="65.0" cy="177.4" r="7.6" fill="#fff" stroke-width="1.00" />
<circle cx="65.0" cy="177.4" r="4.2" fill="#fff" stroke-width="0.88" />
<line x1="65.0" y1="167.0" x2="65.0" y2="186.0" stroke-width="0.50" />
<rect x="60.0" y="185.0" width="10.0" height="5.6" fill="#fff" stroke-width="0.88" rx="0" />
<path d="M60.5,190.6 V198 Q65,201.5 69.6,198 V190.6" fill="#fff" stroke-width="0.75" />
<rect x="62.5" y="190.6" width="5.0" height="6.9" fill="url(#h)" stroke-width="0.50" rx="0" />
<path d="M85.4,188 H92.2 L90.5,195.8 H87 Z" fill="url(#h)" stroke-width="0.75" />
<line x1="88.8" y1="184.0" x2="88.8" y2="205.0" stroke-width="0.50" />
<path d="M25,217 L28.9,190.6 H99 L104.3,216 L102.3,217 L97.3,192.8 H30.6 L27,217 Z" fill="url(#h)" stroke-width="0.88" />
<path d="M25.8,217 H50 L52,222 H79 L81,217 H104.5 L107,220 V224 H81 V229.8 H71 V224 H59 V229.8 H50 V224 H24 V220 Z" fill="#fff" stroke-width="0.88" />
<path d="M44,217 H50 L52,222 V224 H50 V229.8 H48 L46,224 Z" fill="url(#h)" stroke-width="0.62" />
<path d="M87,217 H81 L79,222 V224 H81 V229.8 H83 L85,224 Z" fill="url(#h)" stroke-width="0.62" />
<path d="M99.5,213.5 L104.5,212.5 L107.5,220 V224 H101 Z" fill="url(#h)" stroke-width="0.75" />
<path d="M26,217 H34 V224 H24 V220 Z" fill="url(#h)" stroke-width="0.62" />
<rect x="50.0" y="222.0" width="9.0" height="7.8" fill="#fff" stroke-width="0.75" rx="0" />
<line x1="50.0" y1="222.0" x2="59.0" y2="229.8" stroke-width="0.75" />
<line x1="50.0" y1="229.8" x2="59.0" y2="222.0" stroke-width="0.75" />
<rect x="71.0" y="222.0" width="9.0" height="7.8" fill="#fff" stroke-width="0.75" rx="0" />
<line x1="71.0" y1="222.0" x2="80.0" y2="229.8" stroke-width="0.75" />
<line x1="71.0" y1="229.8" x2="80.0" y2="222.0" stroke-width="0.75" />
<rect x="59.0" y="223.0" width="12.0" height="6.0" fill="#fff" stroke-width="0.62" rx="0" />
<path d="M16.8,210 H25 V217 H25.8 V224 L24,232.8 H20 L16.8,228 Z" fill="url(#h)" stroke-width="0.88" />
<rect x="18.0" y="207.5" width="6.0" height="2.5" fill="#fff" stroke-width="0.62" rx="0" />
<rect x="19.5" y="212.0" width="3.0" height="14.0" fill="#fff" stroke-width="0.50" rx="0" />
<rect x="76.4" y="215.0" width="21.1" height="2.3" fill="#fff" stroke-width="0.75" rx="0" />
<path d="M79,215 v-2.5 q1.5,-2 3,0 v2.5" fill="#fff" stroke-width="0.88" />
<path d="M83,215 v-2.5 q1.5,-2 3,0 v2.5" fill="#fff" stroke-width="0.88" />
<path d="M87,215 v-2.5 q1.5,-2 3,0 v2.5" fill="#fff" stroke-width="0.88" />
<path d="M91,215 v-2.5 q1.5,-2 3,0 v2.5" fill="#fff" stroke-width="0.88" />
<line x1="42.4" y1="208.7" x2="56.8" y2="220.7" stroke-width="0.88" />
<line x1="40.0" y1="210.0" x2="37.0" y2="230.0" stroke-width="0.88" />
<line x1="43.5" y1="210.0" x2="40.5" y2="230.0" stroke-width="0.88" />
<line x1="44.0" y1="208.7" x2="58.0" y2="218.5" stroke-width="0.62" />
<path d="M21.3,224 H24.8 L22.5,339 H19 Z" fill="url(#h)" stroke-width="0.88" />
<path d="M104.5,224 H108 L110.3,339 H106.8 Z" fill="url(#h)" stroke-width="0.88" />
<rect x="58.5" y="229.8" width="14.0" height="104.2" fill="#fff" stroke-width="0.88" rx="0" />
<circle cx="37.2" cy="235.0" r="5.4" fill="url(#x)" stroke-width="0.75" />
<line x1="32.2" y1="237.0" x2="34.0" y2="254.7" stroke-width="0.75" />
<line x1="42.2" y1="237.0" x2="43.0" y2="254.7" stroke-width="0.75" />
<circle cx="37.2" cy="333.0" r="5.4" fill="url(#x)" stroke-width="0.75" />
<line x1="32.2" y1="331.0" x2="34.0" y2="315.0" stroke-width="0.75" />
<line x1="42.2" y1="331.0" x2="43.0" y2="315.0" stroke-width="0.75" />
<rect x="44.7" y="249.4" width="6.8" height="5.3" fill="#fff" stroke-width="0.62" rx="0" />
<line x1="44.7" y1="249.4" x2="51.5" y2="254.7" stroke-width="0.62" />
<line x1="44.7" y1="254.7" x2="51.5" y2="249.4" stroke-width="0.62" />
<rect x="44.7" y="315.0" width="6.8" height="5.0" fill="#fff" stroke-width="0.62" rx="0" />
<line x1="44.7" y1="315.0" x2="51.5" y2="320.0" stroke-width="0.62" />
<line x1="44.7" y1="320.0" x2="51.5" y2="315.0" stroke-width="0.62" />
<path d="M28.4,255.9H42.9M28.7,257.4H42.6M29.0,259.0H42.3M29.3,260.6H42.0M29.7,262.1H41.6M30.0,263.7H41.3M30.3,265.2H41.0M30.6,266.8H40.7M31.0,268.3H40.3M31.3,269.9H40.0M31.6,271.4H39.7M32.0,273.0H39.3M32.3,274.5H39.0M32.7,276.1H38.6M33.1,277.6H38.2M33.5,279.2H37.8M33.9,280.7H37.4M34.4,282.3H36.9M35.0,283.8H36.3M35.2,285.4H36.1M34.6,286.9H36.7M34.1,288.5H37.2M33.7,290.0H37.6M33.2,291.6H38.1M32.8,293.1H38.5M32.5,294.7H38.8M32.1,296.2H39.2M31.8,297.8H39.5M31.4,299.3H39.9M31.1,300.9H40.2M30.7,302.4H40.6M30.4,304.0H40.9M30.1,305.5H41.2M29.8,307.1H41.5M29.5,308.6H41.8M29.1,310.2H42.2M28.8,311.7H42.5M28.5,313.3H42.8" fill="none" stroke-width="0.69" stroke="#2e2522"/>
<path d="M45.9,255.9H57.6M46.1,257.3H57.4M46.3,258.8H57.2M46.6,260.2H56.9M46.8,261.7H56.7M47.1,263.1H56.4M47.3,264.6H56.2M47.5,266.0H56.0M47.8,267.5H55.7M48.0,268.9H55.5M48.3,270.4H55.2M48.6,271.8H54.9M48.8,273.3H54.7M49.1,274.7H54.4M49.4,276.2H54.1M49.7,277.6H53.8M50.0,279.1H53.5M50.3,280.5H53.2M50.7,282.0H52.8M51.1,283.4H52.4M51.1,286.3H52.4M50.7,287.8H52.8M50.3,289.2H53.2M50.0,290.7H53.5M49.7,292.1H53.8M49.4,293.6H54.1M49.1,295.0H54.4M48.8,296.5H54.7M48.5,297.9H55.0M48.3,299.4H55.2M48.0,300.8H55.5M47.8,302.3H55.7M47.5,303.7H56.0M47.3,305.2H56.2M47.0,306.6H56.5M46.8,308.1H56.7M46.6,309.5H56.9M46.3,311.0H57.2M46.1,312.4H57.4M45.9,313.9H57.6" fill="none" stroke-width="0.69" stroke="#2e2522"/>
<line x1="44.2" y1="254.7" x2="44.2" y2="315.0" stroke-width="0.75" />
<line x1="27.0" y1="254.7" x2="27.0" y2="315.0" stroke-width="0.75" />
<g transform="translate(131.0,0) scale(-1,1)">
<circle cx="37.2" cy="235.0" r="5.4" fill="url(#x)" stroke-width="0.75" />
<line x1="32.2" y1="237.0" x2="34.0" y2="254.7" stroke-width="0.75" />
<line x1="42.2" y1="237.0" x2="43.0" y2="254.7" stroke-width="0.75" />
<circle cx="37.2" cy="333.0" r="5.4" fill="url(#x)" stroke-width="0.75" />
<line x1="32.2" y1="331.0" x2="34.0" y2="315.0" stroke-width="0.75" />
<line x1="42.2" y1="331.0" x2="43.0" y2="315.0" stroke-width="0.75" />
<rect x="44.7" y="249.4" width="6.8" height="5.3" fill="#fff" stroke-width="0.62" rx="0" />
<line x1="44.7" y1="249.4" x2="51.5" y2="254.7" stroke-width="0.62" />
<line x1="44.7" y1="254.7" x2="51.5" y2="249.4" stroke-width="0.62" />
<rect x="44.7" y="315.0" width="6.8" height="5.0" fill="#fff" stroke-width="0.62" rx="0" />
<line x1="44.7" y1="315.0" x2="51.5" y2="320.0" stroke-width="0.62" />
<line x1="44.7" y1="320.0" x2="51.5" y2="315.0" stroke-width="0.62" />
<path d="M28.4,255.9H42.9M28.7,257.4H42.6M29.0,259.0H42.3M29.3,260.6H42.0M29.7,262.1H41.6M30.0,263.7H41.3M30.3,265.2H41.0M30.6,266.8H40.7M31.0,268.3H40.3M31.3,269.9H40.0M31.6,271.4H39.7M32.0,273.0H39.3M32.3,274.5H39.0M32.7,276.1H38.6M33.1,277.6H38.2M33.5,279.2H37.8M33.9,280.7H37.4M34.4,282.3H36.9M35.0,283.8H36.3M35.2,285.4H36.1M34.6,286.9H36.7M34.1,288.5H37.2M33.7,290.0H37.6M33.2,291.6H38.1M32.8,293.1H38.5M32.5,294.7H38.8M32.1,296.2H39.2M31.8,297.8H39.5M31.4,299.3H39.9M31.1,300.9H40.2M30.7,302.4H40.6M30.4,304.0H40.9M30.1,305.5H41.2M29.8,307.1H41.5M29.5,308.6H41.8M29.1,310.2H42.2M28.8,311.7H42.5M28.5,313.3H42.8" fill="none" stroke-width="0.69" stroke="#2e2522"/>
<path d="M45.9,255.9H57.6M46.1,257.3H57.4M46.3,258.8H57.2M46.6,260.2H56.9M46.8,261.7H56.7M47.1,263.1H56.4M47.3,264.6H56.2M47.5,266.0H56.0M47.8,267.5H55.7M48.0,268.9H55.5M48.3,270.4H55.2M48.6,271.8H54.9M48.8,273.3H54.7M49.1,274.7H54.4M49.4,276.2H54.1M49.7,277.6H53.8M50.0,279.1H53.5M50.3,280.5H53.2M50.7,282.0H52.8M51.1,283.4H52.4M51.1,286.3H52.4M50.7,287.8H52.8M50.3,289.2H53.2M50.0,290.7H53.5M49.7,292.1H53.8M49.4,293.6H54.1M49.1,295.0H54.4M48.8,296.5H54.7M48.5,297.9H55.0M48.3,299.4H55.2M48.0,300.8H55.5M47.8,302.3H55.7M47.5,303.7H56.0M47.3,305.2H56.2M47.0,306.6H56.5M46.8,308.1H56.7M46.6,309.5H56.9M46.3,311.0H57.2M46.1,312.4H57.4M45.9,313.9H57.6" fill="none" stroke-width="0.69" stroke="#2e2522"/>
<line x1="44.2" y1="254.7" x2="44.2" y2="315.0" stroke-width="0.75" />
<line x1="27.0" y1="254.7" x2="27.0" y2="315.0" stroke-width="0.75" />
</g>
<line x1="24.0" y1="254.7" x2="107.0" y2="254.7" stroke-width="0.88" />
<line x1="23.0" y1="315.0" x2="108.0" y2="315.0" stroke-width="0.88" />
<path d="M19,339 H22.5 L26,342 H47 V333 H50 V348 H59 V350 H72 V348 H81 V333 H84 V342 H105 L106.8,339 H110.3 L114,343 V350 H102 V354 H84 L80,351 H51 L47,354 H26 V350 H17 V343 Z" fill="url(#h)" stroke-width="0.88" />
<rect x="50.0" y="334.0" width="9.0" height="14.0" fill="#fff" stroke-width="0.62" rx="0" />
<line x1="50.0" y1="334.0" x2="59.0" y2="348.0" stroke-width="0.62" />
<line x1="50.0" y1="348.0" x2="59.0" y2="334.0" stroke-width="0.62" />
<rect x="72.0" y="334.0" width="9.0" height="14.0" fill="#fff" stroke-width="0.62" rx="0" />
<line x1="72.0" y1="334.0" x2="81.0" y2="348.0" stroke-width="0.62" />
<line x1="72.0" y1="348.0" x2="81.0" y2="334.0" stroke-width="0.62" />
<rect x="15.0" y="350.0" width="8.0" height="8.0" fill="#fff" stroke-width="0.62" rx="0" />
<rect x="17.0" y="351.0" width="4.0" height="6.0" fill="url(#h)" stroke-width="0.50" rx="0" />
<rect x="26.0" y="354.0" width="6.0" height="22.0" fill="url(#h)" stroke-width="0.88" rx="0" />
<rect x="96.0" y="354.0" width="6.0" height="22.0" fill="url(#h)" stroke-width="0.88" rx="0" />
<path d="M53,350 H78 V354 L75,370 H56 L53,354 Z" fill="#fff" stroke-width="0.88" />
<path d="M53.5,351 H58 V370 H56 Z" fill="url(#h)" stroke-width="0.62" />
<path d="M77.5,351 H73 V370 H75 Z" fill="url(#h)" stroke-width="0.62" />
<line x1="55.0" y1="354.0" x2="74.0" y2="370.0" stroke-width="0.75" />
<line x1="76.0" y1="354.0" x2="57.0" y2="370.0" stroke-width="0.75" />
<rect x="59.0" y="350.0" width="13.0" height="42.0" fill="#fff" stroke-width="0.75" rx="0" />
<circle cx="93.0" cy="344.0" r="2.6" fill="#231815" stroke-width="0.62" />
<path d="M91.5,346 L93,358 L94.5,346 Z" fill="#231815" stroke-width="0.50" />
<rect x="86.0" y="354.0" width="5.0" height="20.0" fill="#fff" stroke-width="0.62" rx="0" />
<rect x="26.0" y="361.0" width="5.0" height="6.0" fill="#fff" stroke-width="0.62" rx="0" />
<line x1="22.0" y1="364.0" x2="36.0" y2="364.0" stroke-width="0.50" />
<rect x="100.0" y="367.0" width="8.0" height="11.0" fill="#fff" stroke-width="0.75" rx="0" />
<rect x="102.0" y="369.0" width="4.0" height="8.0" fill="url(#h)" stroke-width="0.50" rx="0" />
<line x1="98.0" y1="372.5" x2="111.0" y2="372.5" stroke-width="0.50" />
<path d="M26,376 H32 L36.5,380.5 H47.5 L51,374.5 H56.5 V380.5 H74.5 V374.5 H80 L83.5,380.5 H94.5 L96,376 H102 L103,381 L106,386.5 H25 L28,381 Z M36,383.5 H50 L52.5,378 V383.5 H78.5 V378 L81,383.5 H95 V384.5 H36 Z" fill="url(#h)" stroke-width="0.88" fill-rule="evenodd"/>
<path d="M25,386.5 H106 Q110,388 110,393 V416 Q110,422 104,423.5 V428 H100 V423 L98,423 L84,431.5 H79 V426 L97,416 Q106.5,420 107,414 V395 Q107,389.5 102,389.5 H29 Q22.5,389.5 22.5,395 V414 Q23,420 34,416 L52,426 V431.5 H47 L33,423 H31 V428 H27 V423.5 Q19,422 19,416 V393 Q19,388 25,386.5 Z" fill="url(#h)" stroke-width="0.88" fill-rule="evenodd"/>
<path d="M31,392 H56 V386.5 H75 V392 H99 V395 H75 V399 H56 V395 H31 Z" fill="url(#h)" stroke-width="0.88" />
<rect x="60.0" y="399.0" width="9.5" height="4.0" fill="#fff" stroke-width="0.62" rx="0" />
<path d="M61,403 L62.5,409 H67.5 L69,403" fill="#fff" stroke-width="0.75" />
<line x1="65.5" y1="389.0" x2="65.5" y2="398.0" stroke-width="0.62" />
<line x1="31.0" y1="395.0" x2="31.0" y2="411.0" stroke-width="0.75" />
<path d="M31,411 H38 Q46,413 49,424 L46,426 Q43,417 31,414.5 Z" fill="url(#h)" stroke-width="0.75" />
<line x1="56.0" y1="399.0" x2="51.0" y2="424.0" stroke-width="0.75" />
<g transform="translate(131.0,0) scale(-1,1)">
<line x1="31.0" y1="395.0" x2="31.0" y2="411.0" stroke-width="0.75" />
<path d="M31,411 H38 Q46,413 49,424 L46,426 Q43,417 31,414.5 Z" fill="url(#h)" stroke-width="0.75" />
<line x1="56.0" y1="399.0" x2="51.0" y2="424.0" stroke-width="0.75" />
</g>
<line x1="50.0" y1="431.5" x2="81.0" y2="431.5" stroke-width="0.88" />
<line x1="52.0" y1="429.5" x2="79.0" y2="429.5" stroke-width="0.62" />
<line x1="0.0" y1="402.4" x2="118.0" y2="402.4" stroke-width="0.62" stroke-dasharray="9 2 1.5 2"/>
<line x1="3.0" y1="367.0" x2="3.0" y2="435.0" stroke-width="1.00" />
<path d="M3,381 Q5,388 13,388 H20" fill="none" stroke-width="0.88" />
<path d="M3,424 Q5,416.5 13,416.5 H20" fill="none" stroke-width="0.88" />
<path d="M24,428 H28.5 L24.5,453 H34 V458 H13 V453 H20 Z" fill="url(#h)" stroke-width="0.88" />
<path d="M102.5,428 H107 L111,453 H116 V458 H96 V453 H106.5 Z" fill="url(#h)" stroke-width="0.88" />
<line x1="34.0" y1="453.0" x2="96.0" y2="453.0" stroke-width="0.88" />
<line x1="34.0" y1="458.0" x2="96.0" y2="458.0" stroke-width="0.88" />
<text x="22" y="35.5" font-size="22" textLength="88" lengthAdjust="spacing" class="h1">结构图一</text>
<text x="129.5" y="35" font-size="21" textLength="119" lengthAdjust="spacing" class="h2">0.55~7.5kW</text>
<text x="250" y="35.5" font-size="22" textLength="178" lengthAdjust="spacing" class="h1">潜水污水泵结构图</text>
<text x="106" y="507" font-size="18" class="h1">（</text>
<text x="129.5" y="505.2" font-size="16.5" textLength="29.5" lengthAdjust="spacing" class="h3">WQ</text>
<text x="159" y="507" font-size="18.5" textLength="57" lengthAdjust="spacing" class="h1">污水泵</text>
<text x="223" y="507" font-size="18" class="h1">）</text>
<text x="540" y="507" font-size="18" class="h1">（</text>
<text x="562" y="505.2" font-size="16.5" textLength="60.5" lengthAdjust="spacing" class="h3">WQ/JY</text>
<text x="623" y="507" font-size="18.5" textLength="93" lengthAdjust="spacing" class="h1">搅匀污水泵</text>
<text x="720.5" y="507" font-size="18" class="h1">）</text>
<text x="85.0" y="102.5" font-size="9.3" textLength="58.0" lengthAdjust="spacing" class="t">电缆及密封件</text>
<line x1="82.5" y1="105.7" x2="147.5" y2="105.7" stroke-width="0.88" />
<polyline points="82.5,105.7 46.0,166.0" fill="none" stroke-width="0.88" />
<text x="112.5" y="122.5" font-size="9.3" textLength="18.5" lengthAdjust="spacing" class="t">吊环</text>
<line x1="110.0" y1="125.7" x2="135.0" y2="125.7" stroke-width="0.88" />
<polyline points="110.0,125.7 72.5,176.0" fill="none" stroke-width="0.88" />
<text x="123.0" y="158.5" font-size="9.3" textLength="19.0" lengthAdjust="spacing" class="t">泵盖</text>
<line x1="124.0" y1="161.7" x2="146.0" y2="161.7" stroke-width="0.88" />
<polyline points="124.0,161.7 102.5,204.5" fill="none" stroke-width="0.88" />
<text x="127.5" y="192.5" font-size="9.3" textLength="38.0" lengthAdjust="spacing" class="t">热保护器</text>
<line x1="127.4" y1="195.9" x2="160.0" y2="195.9" stroke-width="0.88" />
<polyline points="127.4,195.9 92.5,220.6" fill="none" stroke-width="0.88" />
<text x="118.0" y="217.8" font-size="9.3" textLength="57.0" lengthAdjust="spacing" class="t">轴承测温元件</text>
<line x1="118.0" y1="221.7" x2="174.0" y2="221.7" stroke-width="0.88" />
<polyline points="118.0,221.7 104.0,223.5" fill="none" stroke-width="0.88" />
<text x="127.0" y="235.7" font-size="9.3" textLength="18.0" lengthAdjust="spacing" class="t">轴承</text>
<line x1="125.0" y1="238.7" x2="145.0" y2="238.7" stroke-width="0.88" />
<polyline points="125.0,238.7 78.7,226.3" fill="none" stroke-width="0.88" />
<text x="124.0" y="268.0" font-size="9.3" textLength="18.0" lengthAdjust="spacing" class="t">电机</text>
<line x1="122.5" y1="271.7" x2="150.0" y2="271.7" stroke-width="0.88" />
<polyline points="122.5,271.7 91.0,287.5" fill="none" stroke-width="0.88" />
<text x="126.0" y="296.0" font-size="9.3" textLength="18.5" lengthAdjust="spacing" class="t">轴承</text>
<line x1="121.0" y1="299.7" x2="146.0" y2="299.7" stroke-width="0.88" />
<polyline points="121.0,299.7 80.0,340.0" fill="none" stroke-width="0.88" />
<text x="126.0" y="313.0" font-size="9.3" textLength="56.5" lengthAdjust="spacing" class="t">轴承测温元件</text>
<line x1="122.5" y1="315.7" x2="184.0" y2="315.7" stroke-width="0.88" />
<polyline points="122.5,315.7 84.0,346.0" fill="none" stroke-width="0.88" />
<text x="122.0" y="329.5" font-size="9.3" textLength="37.7" lengthAdjust="spacing" class="t">漏水探头</text>
<text x="158.3" y="329.5" font-size="9.3" class="t">（</text>
<text x="170.9" y="329.5" font-size="9.3" textLength="58.4" lengthAdjust="spacing" class="t">根据客户需要</text>
<text x="233.1" y="329.5" font-size="9.3" class="t">）</text>
<line x1="120.0" y1="332.7" x2="227.5" y2="332.7" stroke-width="0.88" />
<polyline points="120.0,332.7 107.0,341.5" fill="none" stroke-width="0.88" />
<polyline points="120.0,332.7 102.0,344.5" fill="none" stroke-width="0.88" />
<text x="127.0" y="345.5" font-size="9.3" textLength="17.5" lengthAdjust="spacing" class="t">油室</text>
<line x1="124.0" y1="348.2" x2="145.0" y2="348.2" stroke-width="0.88" />
<polyline points="124.0,348.2 98.0,357.0" fill="none" stroke-width="0.88" />
<text x="123.0" y="361.5" font-size="9.3" textLength="18.0" lengthAdjust="spacing" class="t">密封</text>
<line x1="122.5" y1="365.2" x2="141.0" y2="365.2" stroke-width="0.88" />
<polyline points="122.5,365.2 104.0,371.0" fill="none" stroke-width="0.88" />
<polyline points="122.5,365.2 100.0,362.0 75.0,360.0" fill="none" stroke-width="0.88" />
<text x="123.0" y="383.5" font-size="9.3" textLength="18.0" lengthAdjust="spacing" class="t">涡壳</text>
<line x1="121.0" y1="386.7" x2="141.0" y2="386.7" stroke-width="0.88" />
<polyline points="121.0,386.7 110.0,393.0" fill="none" stroke-width="0.88" />
<text x="122.5" y="408.5" font-size="9.3" textLength="17.5" lengthAdjust="spacing" class="t">叶轮</text>
<line x1="120.0" y1="412.7" x2="140.0" y2="412.7" stroke-width="0.88" />
<polyline points="120.0,412.7 95.0,397.0" fill="none" stroke-width="0.88" />
<text x="119.5" y="431.0" font-size="9.3" textLength="26.5" lengthAdjust="spacing" class="t">密封环</text>
<line x1="117.5" y1="434.7" x2="147.5" y2="434.7" stroke-width="0.88" />
<polyline points="117.5,434.7 84.0,428.0" fill="none" stroke-width="0.88" />
<text x="124.0" y="444.0" font-size="9.3" textLength="18.0" lengthAdjust="spacing" class="t">泵座</text>
<line x1="119.0" y1="446.7" x2="142.5" y2="446.7" stroke-width="0.88" />
<polyline points="119.0,446.7 106.0,438.0" fill="none" stroke-width="0.88" />
<text x="356.0" y="103.5" font-size="9.3" textLength="58.0" lengthAdjust="spacing" class="t">电缆及密封件</text>
<line x1="344.5" y1="106.7" x2="430.0" y2="106.7" stroke-width="0.88" />
<polyline points="344.5,106.7 307.0,161.0" fill="none" stroke-width="0.88" />
<text x="412.5" y="122.5" font-size="9.3" textLength="18.5" lengthAdjust="spacing" class="t">吊环</text>
<line x1="410.0" y1="125.7" x2="432.5" y2="125.7" stroke-width="0.88" />
<polyline points="410.0,125.7 349.0,160.0" fill="none" stroke-width="0.88" />
<text x="410.0" y="146.5" font-size="9.3" textLength="19.0" lengthAdjust="spacing" class="t">泵盖</text>
<line x1="399.0" y1="149.7" x2="439.0" y2="149.7" stroke-width="0.88" />
<polyline points="399.0,149.7 349.0,186.0" fill="none" stroke-width="0.88" />
<text x="402.5" y="164.5" font-size="9.3" textLength="37.5" lengthAdjust="spacing" class="t">热保护器</text>
<line x1="401.0" y1="168.2" x2="441.0" y2="168.2" stroke-width="0.88" />
<polyline points="401.0,168.2 350.0,190.0" fill="none" stroke-width="0.88" />
<text x="402.5" y="184.5" font-size="9.3" textLength="56.5" lengthAdjust="spacing" class="t">轴承测温元件</text>
<line x1="401.0" y1="188.2" x2="460.0" y2="188.2" stroke-width="0.88" />
<polyline points="401.0,188.2 357.5,195.5 318.0,203.0" fill="none" stroke-width="0.88" />
<text x="408.0" y="203.0" font-size="9.3" textLength="18.0" lengthAdjust="spacing" class="t">轴承</text>
<line x1="397.5" y1="206.7" x2="430.0" y2="206.7" stroke-width="0.88" />
<polyline points="397.5,206.7 359.0,202.5" fill="none" stroke-width="0.88" />
<text x="401.0" y="227.5" font-size="9.3" textLength="37.4" lengthAdjust="spacing" class="t">过载保护</text>
<text x="437.0" y="227.5" font-size="9.3" class="t">（</text>
<text x="449.4" y="227.5" font-size="9.3" textLength="57.9" lengthAdjust="spacing" class="t">根据客户需要</text>
<text x="511.1" y="227.5" font-size="9.3" class="t">）</text>
<line x1="401.0" y1="231.2" x2="515.0" y2="231.2" stroke-width="0.88" />
<polyline points="401.0,231.2 345.0,251.0" fill="none" stroke-width="0.88" />
<text x="412.5" y="247.5" font-size="9.3" textLength="18.0" lengthAdjust="spacing" class="t">电机</text>
<line x1="402.0" y1="250.7" x2="439.5" y2="250.7" stroke-width="0.88" />
<polyline points="402.0,250.7 344.0,280.0" fill="none" stroke-width="0.88" />
<text x="408.6" y="263.5" font-size="9.3" textLength="57.4" lengthAdjust="spacing" class="t">轴承测温元件</text>
<line x1="407.7" y1="268.7" x2="465.0" y2="268.7" stroke-width="0.88" />
<polyline points="407.7,268.7 325.0,315.0" fill="none" stroke-width="0.88" />
<text x="418.0" y="278.2" font-size="9.3" textLength="18.6" lengthAdjust="spacing" class="t">轴承</text>
<line x1="407.0" y1="281.1" x2="439.5" y2="281.1" stroke-width="0.88" />
<polyline points="407.0,281.1 320.0,319.0" fill="none" stroke-width="0.88" />
<text x="404.0" y="292.8" font-size="9.3" textLength="37.2" lengthAdjust="spacing" class="t">漏水探头</text>
<text x="439.8" y="292.8" font-size="9.3" class="t">（</text>
<text x="452.2" y="292.8" font-size="9.3" textLength="57.6" lengthAdjust="spacing" class="t">根据客户需要</text>
<text x="513.6" y="292.8" font-size="9.3" class="t">）</text>
<line x1="405.0" y1="297.4" x2="515.0" y2="297.4" stroke-width="0.88" />
<polyline points="405.0,296.7 352.0,325.0" fill="none" stroke-width="0.88" />
<polyline points="405.0,296.7 345.0,335.0" fill="none" stroke-width="0.88" />
<text x="431.0" y="317.5" font-size="9.3" textLength="18.0" lengthAdjust="spacing" class="t">油室</text>
<line x1="395.0" y1="320.7" x2="451.0" y2="320.7" stroke-width="0.88" />
<polyline points="395.0,320.7 357.0,332.0 330.0,343.0" fill="none" stroke-width="0.88" />
<text x="476.0" y="350.7" font-size="9.3" textLength="18.4" lengthAdjust="spacing" class="t">密封</text>
<line x1="407.0" y1="353.9" x2="497.4" y2="353.9" stroke-width="0.88" />
<polyline points="407.0,353.9 320.0,347.0 303.0,345.0" fill="none" stroke-width="0.88" />
<text x="474.5" y="383.7" font-size="9.3" textLength="18.0" lengthAdjust="spacing" class="t">涡壳</text>
<line x1="472.0" y1="386.0" x2="497.4" y2="386.0" stroke-width="0.88" />
<polyline points="472.0,386.0 380.0,401.0 357.0,397.0" fill="none" stroke-width="0.88" />
<text x="476.0" y="403.5" font-size="9.3" textLength="18.5" lengthAdjust="spacing" class="t">叶轮</text>
<line x1="472.0" y1="409.0" x2="497.4" y2="409.0" stroke-width="0.88" />
<polyline points="472.0,409.0 449.0,404.5 400.0,398.5 320.0,392.0" fill="none" stroke-width="0.88" />
<text x="472.4" y="424.8" font-size="9.3" textLength="26.9" lengthAdjust="spacing" class="t">密封环</text>
<line x1="473.6" y1="430.0" x2="500.0" y2="430.0" stroke-width="0.88" />
<polyline points="473.6,430.0 449.0,423.7 424.5,417.6 400.0,412.7 322.0,408.0" fill="none" stroke-width="0.88" />
<text x="476.8" y="441.5" font-size="9.3" textLength="17.6" lengthAdjust="spacing" class="t">泵座</text>
<line x1="473.6" y1="445.3" x2="500.6" y2="445.3" stroke-width="0.88" />
<polyline points="473.6,445.3 400.0,449.5 381.6,451.5" fill="none" stroke-width="0.88" />
<text x="645.0" y="102.0" font-size="9.3" textLength="52.5" lengthAdjust="spacing" class="t">电缆及密封件</text>
<line x1="624.0" y1="106.2" x2="706.0" y2="106.2" stroke-width="0.88" />
<polyline points="624.0,106.2 586.0,160.0" fill="none" stroke-width="0.88" />
<text x="689.0" y="121.0" font-size="9.3" textLength="18.0" lengthAdjust="spacing" class="t">吊环</text>
<line x1="687.5" y1="125.2" x2="707.5" y2="125.2" stroke-width="0.88" />
<polyline points="687.5,125.2 625.0,159.0" fill="none" stroke-width="0.88" />
<text x="689.0" y="144.0" font-size="9.3" textLength="18.0" lengthAdjust="spacing" class="t">泵盖</text>
<line x1="680.0" y1="148.2" x2="710.0" y2="148.2" stroke-width="0.88" />
<polyline points="680.0,148.2 626.0,184.0" fill="none" stroke-width="0.88" />
<text x="677.5" y="163.5" font-size="9.3" textLength="38.0" lengthAdjust="spacing" class="t">热保护器</text>
<line x1="676.0" y1="167.7" x2="716.0" y2="167.7" stroke-width="0.88" />
<polyline points="676.0,167.7 626.0,186.0" fill="none" stroke-width="0.88" />
<text x="672.5" y="181.0" font-size="9.3" textLength="57.5" lengthAdjust="spacing" class="t">轴承测温元件</text>
<line x1="671.0" y1="184.7" x2="731.0" y2="184.7" stroke-width="0.88" />
<polyline points="671.0,184.7 632.5,191.0 598.0,199.0" fill="none" stroke-width="0.88" />
<text x="685.0" y="197.5" font-size="9.3" textLength="18.0" lengthAdjust="spacing" class="t">轴承</text>
<line x1="670.0" y1="200.7" x2="707.5" y2="200.7" stroke-width="0.88" />
<polyline points="670.0,200.7 600.0,204.0" fill="none" stroke-width="0.88" />
<text x="646.0" y="219.0" font-size="9.3" textLength="37.4" lengthAdjust="spacing" class="t">过载保护</text>
<text x="682.0" y="219.0" font-size="9.3" class="t">（</text>
<text x="694.4" y="219.0" font-size="9.3" textLength="57.9" lengthAdjust="spacing" class="t">根据客户需要</text>
<text x="756.1" y="219.0" font-size="9.3" class="t">）</text>
<line x1="646.0" y1="223.2" x2="760.0" y2="223.2" stroke-width="0.88" />
<polyline points="646.0,223.2 624.0,246.0" fill="none" stroke-width="0.88" />
<text x="679.5" y="234.0" font-size="9.3" textLength="18.0" lengthAdjust="spacing" class="t">电机</text>
<line x1="659.0" y1="238.2" x2="710.0" y2="238.2" stroke-width="0.88" />
<polyline points="659.0,238.2 622.5,275.0" fill="none" stroke-width="0.88" />
<text x="668.0" y="250.5" font-size="9.3" textLength="57.0" lengthAdjust="spacing" class="t">轴承测温元件</text>
<line x1="666.0" y1="254.2" x2="731.0" y2="254.2" stroke-width="0.88" />
<polyline points="666.0,254.2 600.0,309.0" fill="none" stroke-width="0.88" />
<text x="682.0" y="267.0" font-size="9.3" textLength="18.0" lengthAdjust="spacing" class="t">轴承</text>
<line x1="667.5" y1="269.7" x2="711.0" y2="269.7" stroke-width="0.88" />
<polyline points="667.5,269.7 600.0,311.0" fill="none" stroke-width="0.88" />
<text x="652.5" y="287.5" font-size="9.3" textLength="37.2" lengthAdjust="spacing" class="t">漏水探头</text>
<text x="688.3" y="287.5" font-size="9.3" class="t">（</text>
<text x="700.7" y="287.5" font-size="9.3" textLength="57.6" lengthAdjust="spacing" class="t">根据客户需要</text>
<text x="762.1" y="287.5" font-size="9.3" class="t">）</text>
<line x1="684.0" y1="291.2" x2="765.0" y2="291.2" stroke-width="0.88" />
<polyline points="684.0,291.2 630.0,317.5" fill="none" stroke-width="0.88" />
<polyline points="684.0,291.2 625.0,327.0" fill="none" stroke-width="0.88" />
<text x="699.0" y="309.0" font-size="9.3" textLength="18.0" lengthAdjust="spacing" class="t">油室</text>
<line x1="667.5" y1="313.2" x2="726.0" y2="313.2" stroke-width="0.88" />
<polyline points="667.5,313.2 631.0,331.0 610.0,336.0" fill="none" stroke-width="0.88" />
<text x="744.5" y="343.0" font-size="9.3" textLength="18.5" lengthAdjust="spacing" class="t">密封</text>
<line x1="685.0" y1="346.3" x2="772.5" y2="346.3" stroke-width="0.88" />
<polyline points="685.0,346.3 600.0,340.0 583.0,338.0" fill="none" stroke-width="0.88" />
<text x="747.5" y="381.0" font-size="9.3" textLength="18.5" lengthAdjust="spacing" class="t">涡壳</text>
<line x1="743.6" y1="384.0" x2="772.5" y2="384.0" stroke-width="0.88" />
<polyline points="743.6,384.0 670.0,390.6 637.0,389.0" fill="none" stroke-width="0.88" />
<text x="749.0" y="405.3" font-size="9.3" textLength="18.0" lengthAdjust="spacing" class="t">叶轮</text>
<line x1="743.6" y1="408.5" x2="772.5" y2="408.5" stroke-width="0.88" />
<polyline points="743.6,408.5 725.0,404.5 670.0,393.6 600.0,385.0" fill="none" stroke-width="0.88" />
<text x="745.0" y="427.3" font-size="9.3" textLength="28.0" lengthAdjust="spacing" class="t">密封环</text>
<line x1="743.6" y1="432.5" x2="772.5" y2="432.5" stroke-width="0.88" />
<polyline points="743.6,432.5 719.0,425.7 688.4,420.8 670.0,414.6 600.0,402.0" fill="none" stroke-width="0.88" />
<text x="750.0" y="446.8" font-size="9.3" textLength="18.0" lengthAdjust="spacing" class="t">泵座</text>
<line x1="744.8" y1="452.0" x2="772.5" y2="452.0" stroke-width="0.88" />
<polyline points="744.8,452.0 731.3,449.0 670.0,435.5 650.0,430.0" fill="none" stroke-width="0.88" />
</svg>
</body></html>
